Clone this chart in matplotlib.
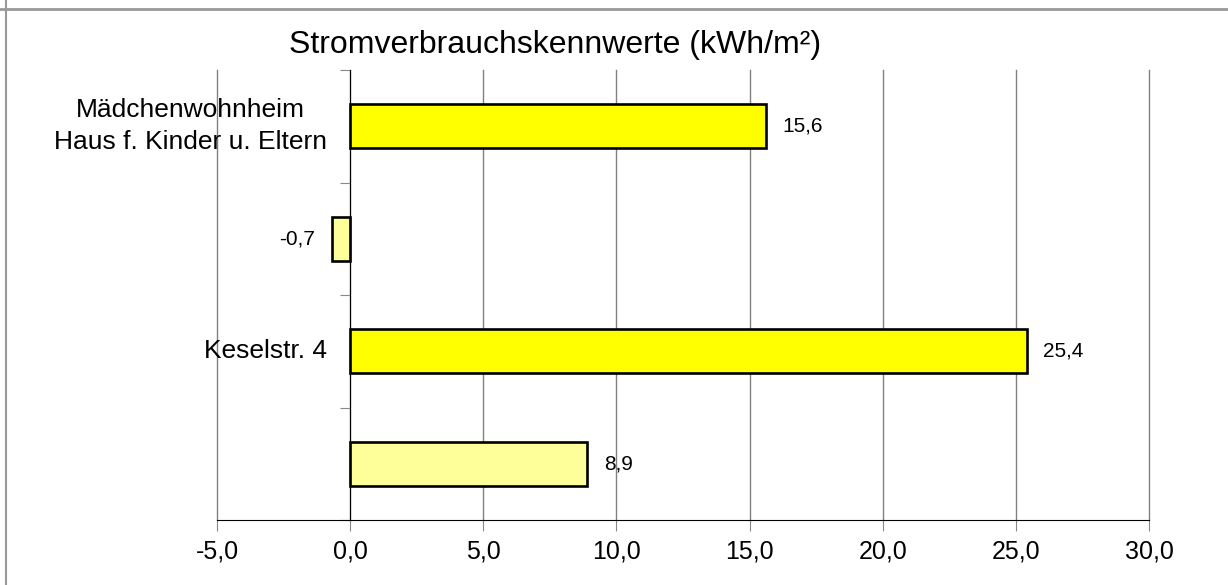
import matplotlib
matplotlib.use('Agg')
import matplotlib.pyplot as plt
import numpy as np
from matplotlib.ticker import FuncFormatter
from matplotlib.lines import Line2D

plt.rcParams['font.family'] = ['Liberation Sans', 'DejaVu Sans']

# data, top to bottom
labels = ["Mädchenwohnheim\nHaus f. Kinder u. Eltern", "", "Keselstr. 4", ""]
values = [15.6, -0.7, 25.4, 8.9]
colors = ["#FFFF00", "#FFFF99", "#FFFF00", "#FFFF99"]
title = "Stromverbrauchskennwerte (kWh/m²)"

W, H = 1228, 585
fig = plt.figure(figsize=(W / 100, H / 100), dpi=100)
ax = fig.add_axes([217 / W, (H - 520) / H, (1149 - 217) / W, 450 / H])

ypos = np.arange(len(values))
ax.barh(ypos, values, height=0.39, color=colors, edgecolor='black', linewidth=1.9, zorder=3)

for y, v in zip(ypos, values):
    txt = f"{v:.1f}".replace('.', ',')
    if v >= 0:
        ax.annotate(txt, (v, y), xytext=(12, 0), textcoords='offset points',
                    ha='left', va='center', fontsize=15)
    else:
        ax.annotate(txt, (v, y), xytext=(-12, 0), textcoords='offset points',
                    ha='right', va='center', fontsize=15)

# category labels, right edge a bit left of the zero axis
for y, lab in zip(ypos, labels):
    if lab:
        ax.annotate(lab, (0, y), xytext=(-17, 0), textcoords='offset points',
                    ha='right', va='center', multialignment='center',
                    fontsize=19, linespacing=1.4, zorder=5, annotation_clip=False)

ax.set_xlim(-5, 30)
ax.set_ylim(3.5, -0.5)
ax.set_xticks(np.arange(-5, 31, 5))
ax.xaxis.set_major_formatter(FuncFormatter(lambda x, p: f"{x:.1f}".replace('.', ',')))
ax.tick_params(axis='x', direction='out', length=8, color='#888888', labelsize=18, pad=6)
ax.set_yticks(np.arange(-0.5, 3.6, 1.0))
ax.set_yticklabels([])
ax.tick_params(axis='y', direction='out', length=7, color='#888888')

ax.xaxis.grid(True, color='#808080', linewidth=1, zorder=0)
for gl in ax.get_xgridlines():
    gl.set_clip_on(False)
for s in ['top', 'right']:
    ax.spines[s].set_visible(False)
ax.spines['left'].set_position(('data', 0))
ax.spines['left'].set_color('black')
ax.spines['left'].set_zorder(4)
ax.spines['bottom'].set_color('black')

fig.text(555 / W, (H - 45) / H, title, ha='center', va='center', fontsize=23)

# outer frame
fig.add_artist(Line2D([0, 1], [(H - 9) / H, (H - 9) / H], color='#999999', linewidth=2))
fig.add_artist(Line2D([6 / W, 6 / W], [0, 1], color='#999999', linewidth=1.5))

fig.savefig('out.png', dpi=100)
